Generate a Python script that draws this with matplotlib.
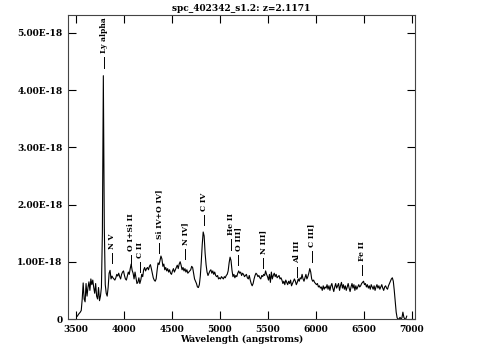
import numpy as np
import matplotlib
matplotlib.use("Agg")
import matplotlib.pyplot as plt
from matplotlib.ticker import FuncFormatter

# Espectro leido a ojo de la imagen (flujo en unidades de 1e-18)
wavelength = np.arange(3515, 6955, 10)
flux = [
    0.05, 0.08, 0.10, 0.12, 0.15, 0.35, 0.63, 0.35, 0.30, 0.62,
    0.40, 0.55, 0.65, 0.50, 0.70, 0.60, 0.68, 0.55, 0.45, 0.62,
    0.40, 0.35, 0.55, 0.32, 0.40, 0.55, 1.50, 4.25, 1.60, 0.60,
    0.45, 0.40, 0.55, 0.80, 0.85, 0.70, 0.75, 0.72, 0.70, 0.68,
    0.72, 0.78, 0.75, 0.80, 0.74, 0.70, 0.78, 0.82, 0.84, 0.76,
    0.70, 0.68, 0.75, 0.82, 0.78, 0.88, 0.96, 0.85, 0.80, 0.70,
    0.82, 0.72, 0.62, 0.64, 0.72, 0.62, 0.68, 0.78, 0.74, 0.86,
    0.90, 0.84, 0.88, 0.90, 0.86, 0.92, 0.95, 0.88, 0.80, 0.72,
    0.68, 0.66, 0.70, 0.85, 0.98, 0.95, 1.02, 1.10, 1.05, 0.92,
    0.96, 0.86, 0.90, 0.84, 0.88, 0.82, 0.86, 0.80, 0.78, 0.84,
    0.88, 0.82, 0.86, 0.90, 0.94, 0.88, 0.96, 1.00, 0.94, 0.86,
    0.90, 0.84, 0.88, 0.82, 0.86, 0.80, 0.82, 0.84, 0.86, 0.92,
    0.90, 0.80, 0.70, 0.66, 0.62, 0.56, 0.55, 0.60, 0.75, 1.00,
    1.30, 1.52, 1.45, 1.15, 0.95, 0.82, 0.76, 0.80, 0.84, 0.86,
    0.80, 0.84, 0.78, 0.82, 0.76, 0.74, 0.76, 0.70, 0.72, 0.70,
    0.74, 0.72, 0.70, 0.74, 0.72, 0.76, 0.78, 0.84, 0.98, 1.08,
    1.02, 0.85, 0.74, 0.78, 0.72, 0.76, 0.74, 0.80, 0.84, 0.80,
    0.82, 0.76, 0.80, 0.78, 0.74, 0.76, 0.78, 0.72, 0.70, 0.76,
    0.68, 0.62, 0.58, 0.62, 0.70, 0.76, 0.80, 0.78, 0.74, 0.76,
    0.72, 0.70, 0.76, 0.74, 0.78, 0.76, 0.84, 0.78, 0.74, 0.68,
    0.78, 0.64, 0.82, 0.70, 0.76, 0.80, 0.74, 0.78, 0.72, 0.74,
    0.76, 0.70, 0.72, 0.68, 0.62, 0.66, 0.60, 0.68, 0.64, 0.60,
    0.66, 0.62, 0.68, 0.58, 0.62, 0.66, 0.70, 0.66, 0.60, 0.64,
    0.70, 0.66, 0.72, 0.70, 0.78, 0.70, 0.66, 0.72, 0.78, 0.70,
    0.74, 0.80, 0.88, 0.82, 0.70, 0.66, 0.68, 0.64, 0.62, 0.60,
    0.62, 0.56, 0.58, 0.54, 0.56, 0.50, 0.58, 0.52, 0.56, 0.54,
    0.60, 0.52, 0.58, 0.50, 0.58, 0.62, 0.54, 0.48, 0.56, 0.62,
    0.54, 0.58, 0.62, 0.50, 0.58, 0.64, 0.54, 0.60, 0.52, 0.58,
    0.50, 0.56, 0.62, 0.54, 0.48, 0.56, 0.62, 0.54, 0.60, 0.50,
    0.58, 0.52, 0.56, 0.60, 0.56, 0.58, 0.62, 0.64, 0.66, 0.60,
    0.62, 0.56, 0.60, 0.54, 0.58, 0.52, 0.60, 0.56, 0.52, 0.58,
    0.50, 0.56, 0.60, 0.54, 0.58, 0.52, 0.56, 0.60, 0.54, 0.50,
    0.56, 0.58, 0.54, 0.52, 0.58, 0.62, 0.66, 0.70, 0.72, 0.66,
    0.50, 0.30, 0.12, 0.02, 0.00, 0.00, 0.03, 0.00, 0.02, 0.12,
    0.03, 0.00, 0.00, 0.05,
]

# Lineas de emision marcadas: nombre, longitud de onda, base de la marca
line_names = ["Ly alpha", "N V", "O I+Si II", "C II", "Si IV+O IV]", "N IV]",
              "C IV", "He II", "O III]", "N III]", "Al III", "C III]", "Fe II"]
line_wave = [3789, 3872, 4073, 4170, 4368, 4639, 4833, 5111, 5191, 5451, 5799, 5955, 6482]
line_base = [4.39, 0.98, 0.94, 0.82, 1.15, 1.05, 1.64, 1.21, 0.94, 0.89, 0.73, 1.00, 0.77]

scale = 1e-18
flux = np.array(flux) * scale

font = {"family": "DejaVu Serif", "weight": "bold", "size": 6.5}

fig = plt.figure(figsize=(4.83, 3.58), dpi=100)
ax = fig.add_axes([0.1408, 0.1089, 0.7184, 0.8492])

ax.plot(wavelength, flux, color="black", linewidth=0.8)

for name, w, b in zip(line_names, line_wave, line_base):
    ax.plot([w, w], [b * scale, (b + 0.18) * scale], color="black", linewidth=0.7)
    ax.text(w, (b + 0.25) * scale, name, rotation=90, ha="center", va="bottom",
            fontdict=dict(font, size=5.5))

ax.set_xlim(3417, 7031)
ax.set_ylim(0, 5.31e-18)
ax.set_xticks(range(3500, 7001, 500))
ax.set_yticks([0, 1e-18, 2e-18, 3e-18, 4e-18, 5e-18])
ax.yaxis.set_major_formatter(FuncFormatter(
    lambda v, p: "0" if v == 0 else "%.2fE-18" % (v / scale)))

ax.tick_params(direction="in", length=6, width=0.8, top=True, right=True,
               labelsize=6.5, pad=4)
for lab in ax.get_xticklabels() + ax.get_yticklabels():
    lab.set_fontfamily("DejaVu Serif")
    lab.set_fontweight("bold")
for s in ax.spines.values():
    s.set_linewidth(0.8)
    s.set_color("#444444")

ax.set_xlabel("Wavelength (angstroms)", fontdict=font, labelpad=1)
ax.set_title("spc_402342_s1.2: z=2.1171", fontdict=font, pad=3)

fig.savefig("out.png", dpi=100)
